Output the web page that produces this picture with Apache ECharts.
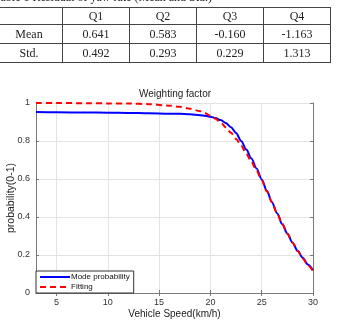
<!DOCTYPE html>
<html>
<head>
<meta charset="utf-8">
<script src="https://cdn.jsdelivr.net/npm/echarts@6/dist/echarts.min.js"></script>
<style>
  html, body { margin: 0; padding: 0; background: #fff; }
  #wrap { position: relative; width: 338px; height: 320px; overflow: hidden; }
  #chart { position: absolute; left: 0; top: 0; width: 338px; height: 320px; }
  #caption {
    position: absolute; left: -6px; top: -10px; white-space: nowrap; line-height: 12px;
    font: 12px "Liberation Serif", "Times New Roman", serif; color: #222;
  }
  #tbl {
    position: absolute; left: -5px; top: 7px; border-collapse: collapse;
    table-layout: fixed; width: 335px;
    font: 12px "Liberation Serif", "Times New Roman", serif; color: #222;
  }
  #tbl td { border: 1px solid #444; text-align: center; padding: 0; }
  #tbl tr.head td { height: 16px; }
  #tbl tr.body td { height: 18px; }
</style>
</head>
<body>
<div id="wrap">
  <div id="chart"></div>
  <div id="caption"></div>
  <table id="tbl"></table>
</div>
<script>
// table values
const tableCaption = "Table 1 Residual of yaw rate (Mean and Std.)";
const tableCols = ["Q1", "Q2", "Q3", "Q4"];
const tableRows = ["Mean", "Std."];
const meanVals = ["0.641", "0.583", "-0.160", "-1.163"];
const stdVals = ["0.492", "0.293", "0.229", "1.313"];

// chart values
const speed = [3, 5, 8, 10, 12, 14, 16, 17, 18, 19, 19.5, 20, 20.5, 21, 21.5, 22, 22.5,
  23, 23.5, 24, 24.5, 25, 25.5, 26, 26.5, 27, 27.5, 28, 28.5, 29, 29.5, 30];
const modeProb = [0.952, 0.951, 0.950, 0.949, 0.948, 0.946, 0.944, 0.943, 0.941, 0.936, 0.933,
  0.928, 0.921, 0.910, 0.895, 0.873, 0.842, 0.800, 0.755, 0.708, 0.655, 0.598, 0.538,
  0.478, 0.420, 0.362, 0.312, 0.265, 0.222, 0.185, 0.150, 0.120];
const fitting = [1.000, 1.000, 0.999, 0.998, 0.997, 0.994, 0.986, 0.980, 0.970, 0.957, 0.946,
  0.933, 0.917, 0.897, 0.872, 0.843, 0.811, 0.775, 0.733, 0.690, 0.643, 0.594, 0.535,
  0.478, 0.420, 0.365, 0.313, 0.266, 0.222, 0.182, 0.147, 0.115];
const xTicks = [5, 10, 15, 20, 25, 30];

document.getElementById("caption").textContent = tableCaption;
const tbl = document.getElementById("tbl");
const cols = [67, 67, 67, 67, 67];
tbl.innerHTML =
  "<colgroup>" + cols.map((w) => `<col style="width:${w}px">`).join("") + "</colgroup>" +
  `<tr class="head"><td></td>${tableCols.map((c) => `<td>${c}</td>`).join("")}</tr>` +
  [meanVals, stdVals]
    .map((vals, i) => `<tr class="body"><td>${tableRows[i]}</td>${vals.map((v) => `<td>${v}</td>`).join("")}</tr>`)
    .join("");

const chart = echarts.init(document.getElementById("chart"), null, { renderer: "canvas" });
const axisGrey = "#7a7a7a";
const font = "Liberation Sans, Arial, sans-serif";

chart.setOption({
  animation: false,
  backgroundColor: "#fff",
  textStyle: { fontFamily: font },
  title: {
    text: "Weighting factor",
    left: 175,
    top: 89,
    padding: 0,
    textAlign: "center",
    textStyle: { fontSize: 10, fontWeight: "normal", color: "#222" },
  },
  grid: { left: 36, right: 25, top: 103, bottom: 27, outerBoundsMode: "none" },
  legend: {
    data: ["Mode probability", "Fitting"],
    orient: "vertical",
    left: 36,
    bottom: 27,
    itemWidth: 30,
    itemHeight: 8,
    itemGap: 2,
    padding: [2, 4, 2, 3],
    backgroundColor: "#fff",
    borderColor: "#333",
    borderWidth: 1,
    borderRadius: 0,
    itemStyle: { color: "transparent", borderWidth: 0, opacity: 0 },
    textStyle: { fontSize: 8, color: "#111", padding: [0, 0, 0, -4] },
  },
  xAxis: [
    {
      type: "value",
      min: 3,
      max: 30,
      name: "Vehicle Speed(km/h)",
      nameLocation: "middle",
      nameGap: 16,
      nameMoveOverlap: false,
      nameTextStyle: { fontSize: 10, color: "#222" },
      axisLine: { lineStyle: { color: axisGrey } },
      axisTick: { inside: true, length: 3, customValues: xTicks, lineStyle: { color: axisGrey } },
      axisLabel: { customValues: xTicks, fontSize: 9, color: "#333", margin: 5 },
      splitLine: { show: true, lineStyle: { color: "#e3e3e3" } },
    },
    {
      type: "value",
      position: "top",
      min: 3,
      max: 30,
      axisLine: { lineStyle: { color: axisGrey } },
      axisTick: { inside: true, length: 3, customValues: xTicks, lineStyle: { color: axisGrey } },
      axisLabel: { show: false },
      splitLine: { show: false },
    },
  ],
  yAxis: [
    {
      type: "value",
      min: 0,
      max: 1,
      interval: 0.2,
      name: "probability(0-1)",
      nameLocation: "middle",
      nameGap: 19,
      nameMoveOverlap: false,
      nameTextStyle: { fontSize: 10.5, color: "#222" },
      axisLine: { show: true, lineStyle: { color: axisGrey } },
      axisTick: { show: true, inside: true, length: 3, lineStyle: { color: axisGrey } },
      axisLabel: { fontSize: 9, color: "#333", margin: 6 },
      splitLine: { show: true, lineStyle: { color: "#e3e3e3" } },
    },
    {
      type: "value",
      position: "right",
      min: 0,
      max: 1,
      interval: 0.2,
      axisLine: { show: true, lineStyle: { color: axisGrey } },
      axisTick: { show: true, inside: true, length: 3, lineStyle: { color: axisGrey } },
      axisLabel: { show: false },
      splitLine: { show: false },
    },
  ],
  series: [
    {
      name: "Mode probability",
      type: "line",
      symbol: "none",
      smooth: 0.3,
      smoothMonotone: "x",
      lineStyle: { color: "#0000ff", width: 2 },
      itemStyle: { color: "#0000ff" },
      data: speed.map((s, i) => [s, modeProb[i]]),
      z: 3,
    },
    {
      name: "Fitting",
      type: "line",
      symbol: "none",
      smooth: 0.3,
      smoothMonotone: "x",
      lineStyle: { color: "#ff0000", width: 2, type: [6, 4] },
      itemStyle: { color: "#ff0000" },
      data: speed.map((s, i) => [s, fitting[i]]),
      z: 4,
    },
  ],
});
</script>
</body>
</html>
